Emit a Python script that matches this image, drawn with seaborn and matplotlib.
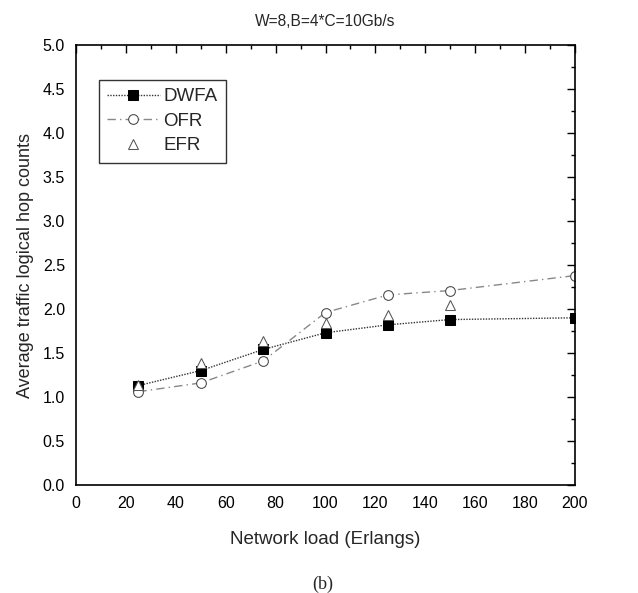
import matplotlib
matplotlib.use("Agg")
import matplotlib.pyplot as plt
import seaborn as sns
import pandas as pd
from matplotlib.ticker import MultipleLocator

load = [25, 50, 75, 100, 125, 150, 200]
dwfa = [1.13, 1.30, 1.54, 1.73, 1.82, 1.88, 1.90]
ofr = [1.06, 1.16, 1.41, 1.96, 2.16, 2.21, 2.38]
efr_load = [25, 50, 75, 100, 125, 150]
efr = [1.14, 1.39, 1.64, 1.84, 1.93, 2.05]

sns.set_theme(style="white")
plt.rcParams['font.family'] = ['Liberation Sans', 'DejaVu Sans']

fig = plt.figure(figsize=(6.38, 5.93), dpi=100)
ax = fig.add_axes([76/638, 1-485/593, (575-76)/638, (485-45)/593])

df1 = pd.DataFrame({"x": load, "y": dwfa})
df2 = pd.DataFrame({"x": load, "y": ofr})
df3 = pd.DataFrame({"x": efr_load, "y": efr})

sns.lineplot(data=df1, x="x", y="y", ax=ax, color="#333333", linestyle=(0, (1, 1)),
             linewidth=1.0, marker="s", markersize=6.5, markerfacecolor="black",
             markeredgecolor="black", label="DWFA")
sns.lineplot(data=df2, x="x", y="y", ax=ax, color="#888888", linestyle=(0, (6, 3, 1, 3)),
             linewidth=1.0, marker="o", markersize=7, markerfacecolor="white",
             markeredgecolor="#444444", label="OFR")
sns.lineplot(data=df3, x="x", y="y", ax=ax, color="#555555", linestyle="none",
             marker="^", markersize=7, markerfacecolor="white",
             markeredgecolor="#555555", label="EFR")

ax.set_xlim(0, 200)
ax.set_ylim(0, 5.0)
ax.xaxis.set_major_locator(MultipleLocator(20))
ax.xaxis.set_minor_locator(MultipleLocator(10))
ax.yaxis.set_major_locator(MultipleLocator(0.5))
ax.yaxis.set_minor_locator(MultipleLocator(0.25))
ax.yaxis.set_major_formatter(matplotlib.ticker.FormatStrFormatter('%.1f'))
ax.tick_params(which="both", direction="in", top=True, right=True, labelsize=11.5, colors="black")
ax.tick_params(which="major", length=6, width=1, pad=8)
ax.tick_params(which="minor", length=3, width=1)
for s in ax.spines.values():
    s.set_color("black")
    s.set_linewidth(1.2)

ax.set_xlabel("Network load (Erlangs)", fontsize=13.5, labelpad=14)
ax.set_ylabel("Average traffic logical hop counts", fontsize=13, labelpad=6)
ax.set_title("W=8,B=4*C=10Gb/s", fontsize=11.2, pad=14)

leg = ax.legend(loc="upper left", bbox_to_anchor=(99/638, 1-80/593),
                bbox_transform=fig.transFigure, borderaxespad=0, fontsize=13.5,
                frameon=True, fancybox=False, edgecolor="black", handlelength=2.8,
                handletextpad=0.2, borderpad=0.43, labelspacing=0.4)
leg.get_frame().set_linewidth(1.0)

fig.text(323/638, 1-584/593, "(b)", ha="center", va="center", fontsize=13,
         family=["Liberation Serif", "DejaVu Serif"])

fig.savefig("out.png", dpi=100)
